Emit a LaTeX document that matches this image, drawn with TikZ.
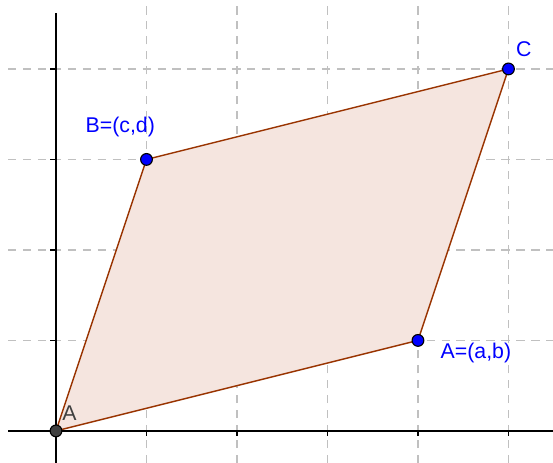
\documentclass[tikz,border=0pt]{standalone}
\usepackage{fontspec}
\setmainfont{Liberation Sans}
\definecolor{polyedge}{RGB}{153,51,0}
\definecolor{polyfill}{RGB}{245,229,223}
\definecolor{gridgray}{RGB}{192,192,192}
\definecolor{ptgray}{RGB}{64,64,64}
\begin{document}
\begin{tikzpicture}[
  gridline/.style={gridgray, line width=0.4pt, dash pattern=on 2.6pt off 2.1pt},
  axisline/.style={black, line width=0.55pt},
  edge/.style={polyedge, line width=0.45pt},
  pt/.style={circle, draw=black, line width=0.35pt, fill=blue, inner sep=0pt, minimum size=0.13cm},
  lbl/.style={blue, font=\fontsize{6.7}{8}\selectfont, inner sep=0pt},
]
  \useasboundingbox (-0.619,-0.354) rectangle (5.492,4.762);

  % Grid
  \foreach \x in {1,...,5}
    \draw[gridline] (\x,-0.354) -- (\x,4.762);
  \foreach \y in {1,...,4}
    \draw[gridline] (-0.53,\y) -- (5.492,\y);

  % Polygon vertices
  \coordinate (O) at (0,0);
  \coordinate (A) at (4,1);
  \coordinate (B) at (1,3);
  \coordinate (C) at (5,4);

  % Fill
  \fill[polyfill] (O) -- (A) -- (C) -- (B) -- cycle;

  % Axes with ticks
  \draw[axisline] (-0.53,0) -- (5.492,0);
  \draw[axisline] (0,-0.354) -- (0,4.62);
  \foreach \x in {1,...,5}
    \draw[axisline] (\x,0) -- (\x,-0.055);
  \foreach \y in {1,...,4}
    \draw[axisline] (0,\y) -- (-0.065,\y);

  % Edges
  \draw[edge] (O) -- (A);
  \draw[edge] (A) -- (C);
  \draw[edge] (C) -- (B);
  \draw[edge] (B) -- (O);

  % Points
  \node[pt, fill=ptgray] (pO) at (O) {};
  \node[pt] (pA) at (A) {};
  \node[pt] (pB) at (B) {};
  \node[pt] (pC) at (C) {};

  % Labels
  \node[lbl, ptgray] (lO) at (0.15,0.2) {A};
  \node[lbl] (lA) at (4.64,0.86) {A=(a,b)};
  \node[lbl] (lB) at (0.71,3.36) {B=(c,d)};
  \node[lbl] (lC) at (5.17,4.22) {C};
\end{tikzpicture}
\end{document}
